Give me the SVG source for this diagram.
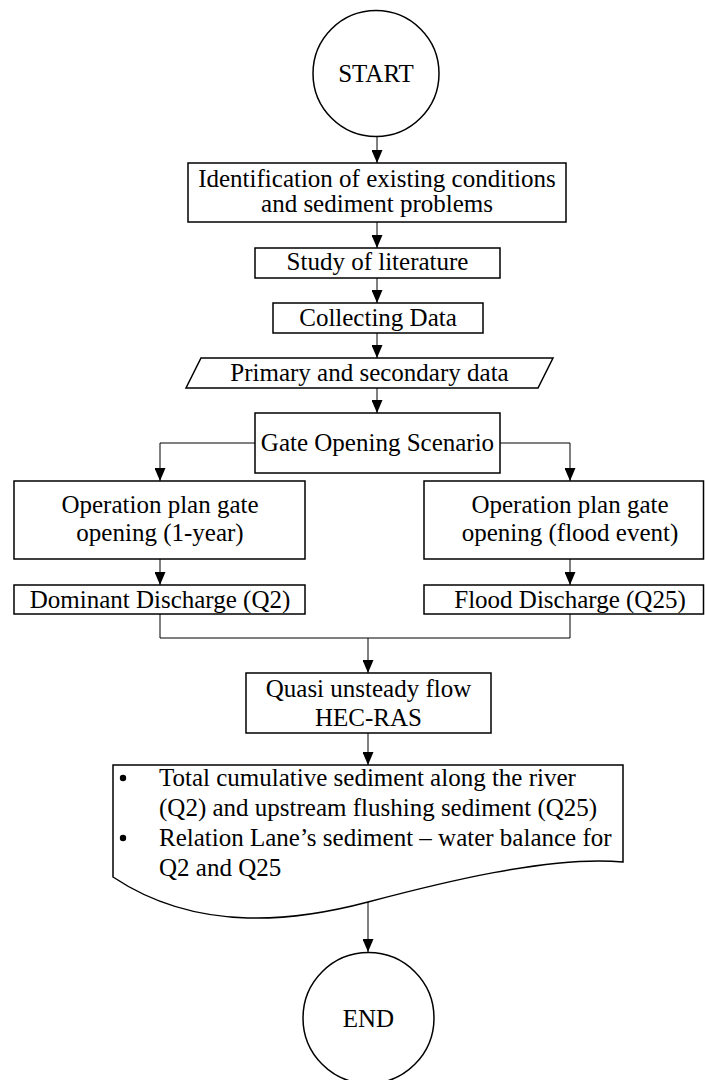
<svg xmlns="http://www.w3.org/2000/svg" width="705" height="1080" viewBox="0 0 705 1080">
<defs>
<marker id="arr" markerUnits="userSpaceOnUse" markerWidth="13" markerHeight="11" refX="13" refY="5.5" orient="auto">
<path d="M0,0 L13,5.5 L0,11 Z" fill="#000"/>
</marker>
<style>
.shape{fill:#fff;stroke:#000;stroke-width:1.5}
.conn{fill:none;stroke:#000;stroke-width:1}
.arrow{marker-end:url(#arr)}
text{font-family:"Liberation Serif","Times New Roman",serif;font-size:25px;fill:#000}
.c{text-anchor:middle}
</style>
</defs>
<rect width="705" height="1080" fill="#fff"/>
<g id="connectors">
<line class="conn arrow" x1="377" y1="137" x2="377" y2="163"/>
<line class="conn arrow" x1="377" y1="222" x2="377" y2="248"/>
<line class="conn arrow" x1="377" y1="278" x2="377" y2="303"/>
<line class="conn arrow" x1="377" y1="333" x2="377" y2="358"/>
<line class="conn arrow" x1="377" y1="388" x2="377" y2="413"/>
<polyline class="conn arrow" points="255,443 160,443 160,481"/>
<polyline class="conn arrow" points="500,443 570,443 570,481"/>
<line class="conn arrow" x1="160" y1="559" x2="160" y2="585"/>
<line class="conn arrow" x1="570" y1="559" x2="570" y2="585"/>
<polyline class="conn" points="160,614 160,638 570,638 570,614"/>
<line class="conn arrow" x1="368" y1="638" x2="368" y2="673"/>
<line class="conn arrow" x1="368" y1="733" x2="368" y2="765"/>
<line class="conn arrow" x1="368" y1="902" x2="368" y2="952"/>
</g>
<g id="start">
<circle class="shape" cx="376" cy="73.5" r="63"/>
<text class="c" x="376" y="82">START</text>
</g>
<g id="identification">
<rect class="shape" x="188" y="163" width="378" height="59"/>
<text class="c" x="377" y="187">Identification of existing conditions</text>
<text class="c" x="377" y="212">and sediment problems</text>
</g>
<g id="literature">
<rect class="shape" x="255" y="248" width="245" height="30"/>
<text class="c" x="377.5" y="270">Study of literature</text>
</g>
<g id="collecting">
<rect class="shape" x="273" y="303" width="210" height="30"/>
<text class="c" x="378" y="326">Collecting Data</text>
</g>
<g id="data">
<polygon class="shape" points="201,358 553,358 538,388 186,388"/>
<text class="c" x="369.5" y="381">Primary and secondary data</text>
</g>
<g id="gate">
<rect class="shape" x="255" y="413" width="245" height="60"/>
<text class="c" x="377.5" y="451">Gate Opening Scenario</text>
</g>
<g id="plan-1year">
<rect class="shape" x="14" y="481" width="291" height="78"/>
<text class="c" x="160" y="513">Operation plan gate</text>
<text class="c" x="160" y="541">opening (1-year)</text>
</g>
<g id="plan-flood">
<rect class="shape" x="424" y="481" width="279.5" height="78"/>
<text class="c" x="570" y="513">Operation plan gate</text>
<text class="c" x="570" y="541">opening (flood event)</text>
</g>
<g id="dominant">
<rect class="shape" x="14" y="585" width="291" height="29"/>
<text class="c" x="160" y="607.5">Dominant Discharge (Q2)</text>
</g>
<g id="flood">
<rect class="shape" x="424" y="585" width="279.5" height="29"/>
<text class="c" x="570" y="607.5">Flood Discharge (Q25)</text>
</g>
<g id="quasi">
<rect class="shape" x="246" y="673" width="245" height="60"/>
<text class="c" x="368.5" y="696.5">Quasi unsteady flow</text>
<text class="c" x="368.5" y="726">HEC-RAS</text>
</g>
<g id="results">
<path class="shape" d="M113,765 H623 V862 C550,855 436,884 368,902 C300,920 200,935 113,877 Z"/>
<circle cx="123" cy="778" r="3.2" fill="#000"/>
<circle cx="123" cy="838" r="3.2" fill="#000"/>
<text x="159" y="785.5">Total cumulative sediment along the river</text>
<text x="159" y="815.5">(Q2) and upstream flushing sediment (Q25)</text>
<text x="159" y="845.5">Relation Lane’s sediment – water balance for</text>
<text x="159" y="875.5">Q2 and Q25</text>
</g>
<g id="end">
<circle class="shape" cx="368.5" cy="1018" r="65.5"/>
<text class="c" x="368.5" y="1027">END</text>
</g>
</svg>
